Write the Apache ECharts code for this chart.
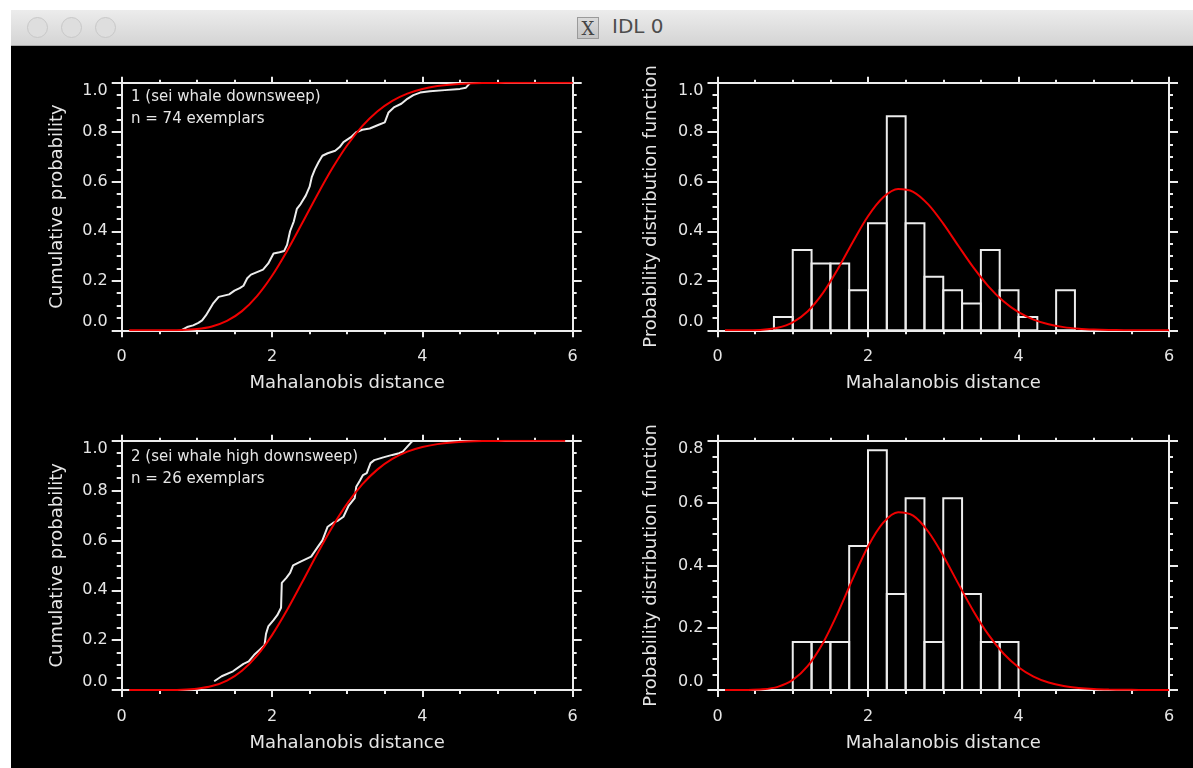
<!DOCTYPE html>
<html><head><meta charset="utf-8">
<script src="https://cdn.jsdelivr.net/npm/echarts@6/dist/echarts.min.js"></script>
<style>
html,body{margin:0;padding:0;background:#fff;width:1193px;height:768px;overflow:hidden;}
#win{position:absolute;left:11px;top:46px;width:1182px;height:722px;background:#000;}
#bar{position:absolute;left:11px;top:10px;width:1182px;height:36px;background:linear-gradient(#ececec,#d4d4d4);border-bottom:1px solid #a8a8a8;box-sizing:border-box;}
.dot{position:absolute;top:7px;width:21px;height:21px;border-radius:50%;background:#dedede;border:1px solid #c8c8c8;box-sizing:border-box;}
#xicon{position:absolute;left:566px;top:7px;width:22px;height:22px;box-sizing:border-box;border:1px solid #9a9a9a;background:linear-gradient(#dadada,#c4c4c4);font:18px "DejaVu Serif";color:#444;text-align:center;line-height:21px;}
#ttl{position:absolute;left:601px;top:4px;height:35px;line-height:35px;font:20px "DejaVu Sans";color:#4d4d4d;}
#chart{position:absolute;left:0;top:0;width:1193px;height:768px;}
</style></head>
<body>
<div id="win"></div>
<div id="bar">
  <div class="dot" style="left:16px"></div>
  <div class="dot" style="left:50px"></div>
  <div class="dot" style="left:84px"></div>
  <div id="xicon">X</div>
  <div id="ttl">IDL 0</div>
</div>
<div id="chart"></div>
<script>
// ---------- data ----------
const panelTexts = ['1 (sei whale downsweep)\nn = 74 exemplars', '2 (sei whale high downsweep)\nn = 26 exemplars'];
const xAxisName = 'Mahalanobis distance';
const cdfAxisName = 'Cumulative probability';
const pdfAxisName = 'Probability distribution function';

// fitted (red) curves
const redX   = [0.1, 0.2, 0.4, 0.6, 0.8, 1.0, 1.2, 1.4, 1.6, 1.8, 2.0, 2.2, 2.4, 2.6, 2.8, 3.0, 3.2, 3.4, 3.6, 3.8, 4.0, 4.2, 4.4, 4.6, 4.8, 5.0, 5.2, 5.4, 5.6, 5.8, 5.9, 6.0];
const redCdf = [0, 0, 0.00001, 0.0002, 0.0012, 0.0052, 0.0157, 0.038, 0.0775, 0.138, 0.2202, 0.3205, 0.432, 0.5457, 0.6531, 0.7473, 0.8246, 0.884, 0.9269, 0.9561, 0.9749, 0.9863, 0.9929, 0.9965, 0.9983, 0.9992, 0.9997, 0.9999, 1.0, 1.0, 1.0, 1.0];
const redPdf = [0, 0, 0.0002, 0.0021, 0.0101, 0.0323, 0.0773, 0.1503, 0.2481, 0.358, 0.4607, 0.5363, 0.5706, 0.5595, 0.5086, 0.4308, 0.3413, 0.2538, 0.1776, 0.1171, 0.0731, 0.0431, 0.0241, 0.0128, 0.0065, 0.0031, 0.0014, 0.0006, 0.0003, 0.0001, 0.0001, 0];
const redEndBottom = 5.9;

// empirical CDF, class 1 (n = 74)
const ecdfX1 = [0.79, 0.87, 0.95, 1.02, 1.07, 1.12, 1.17, 1.22, 1.29, 1.36, 1.43, 1.5, 1.57, 1.62, 1.67, 1.72, 1.8, 1.88, 1.95, 2.02, 2.1, 2.16, 2.2, 2.24, 2.29, 2.33, 2.38, 2.45, 2.5, 2.53, 2.57, 2.62, 2.67, 2.74, 2.84, 2.9, 2.95, 3.05, 3.12, 3.2, 3.3, 3.42, 3.5, 3.55, 3.62, 3.72, 3.8, 3.88, 3.97, 4.1, 4.3, 4.5, 4.58, 4.64];
const ecdfY1 = [0.0, 0.013, 0.02, 0.03, 0.04, 0.06, 0.085, 0.11, 0.135, 0.14, 0.145, 0.16, 0.17, 0.18, 0.21, 0.225, 0.235, 0.245, 0.27, 0.31, 0.315, 0.32, 0.345, 0.4, 0.44, 0.49, 0.51, 0.545, 0.58, 0.62, 0.65, 0.68, 0.705, 0.715, 0.725, 0.74, 0.76, 0.78, 0.8, 0.81, 0.815, 0.83, 0.84, 0.88, 0.9, 0.915, 0.935, 0.95, 0.96, 0.965, 0.97, 0.975, 0.98, 1.0];

// empirical CDF, class 2 (n = 26)
const ecdfX2 = [1.23, 1.33, 1.48, 1.62, 1.69, 1.76, 1.83, 1.9, 1.92, 1.95, 2.02, 2.07, 2.12, 2.13, 2.19, 2.24, 2.28, 2.38, 2.52, 2.6, 2.67, 2.74, 2.81, 2.88, 2.95, 3.02, 3.1, 3.12, 3.17, 3.21, 3.26, 3.31, 3.36, 3.48, 3.6, 3.69, 3.74, 3.86, 3.88];
const ecdfY2 = [0.035, 0.055, 0.075, 0.105, 0.115, 0.14, 0.16, 0.18, 0.225, 0.255, 0.28, 0.3, 0.33, 0.43, 0.45, 0.47, 0.5, 0.515, 0.535, 0.57, 0.6, 0.655, 0.67, 0.68, 0.695, 0.74, 0.77, 0.815, 0.84, 0.862, 0.87, 0.91, 0.922, 0.933, 0.943, 0.95, 0.956, 0.996, 1.0];

// histograms (bin width 0.25)
const binWidth = 0.25;
const binLeft1 = [0.75, 1.0, 1.25, 1.5, 1.75, 2.0, 2.25, 2.5, 2.75, 3.0, 3.25, 3.5, 3.75, 4.0, 4.25, 4.5];
const binVal1  = [0.054, 0.324, 0.27, 0.27, 0.162, 0.432, 0.865, 0.432, 0.216, 0.162, 0.108, 0.324, 0.162, 0.054, 0, 0.162];
const binLeft2 = [1.0, 1.25, 1.5, 1.75, 2.0, 2.25, 2.5, 2.75, 3.0, 3.25, 3.5, 3.75];
const binVal2  = [0.154, 0.154, 0.154, 0.462, 0.769, 0.308, 0.615, 0.154, 0.615, 0.308, 0.154, 0.154];

// axis ranges and tick labels
const xMin = 0, xMax = 6, xStep = 2;
const yStep = 0.2;
const yMaxes = [1.0, 1.0, 1.0, 0.8];

// ---------- styles ----------
const FONT = 'DejaVu Sans';
const FG = '#ececec';
const TXT = '#e6e6e6';
const RED = '#f00000';
const LW = 2;

const zip = (a, b) => a.map((v, i) => [v, b[i]]);
const bins = (l, v) => l.map((x, i) => [x, x + binWidth, v[i]]);

const grids = [
  {left: 121.7, top: 82.7, width: 451, height: 247.6},
  {left: 717.5, top: 82.7, width: 451.5, height: 247.6},
  {left: 121.7, top: 440.7, width: 451, height: 249.3},
  {left: 717.5, top: 440.7, width: 451.5, height: 249.3}
].map(g => Object.assign(g, {containLabel: false, outerBoundsMode: 'none'}));

const ls = {color: FG, width: LW};
const xAxis = [], yAxis = [];
grids.forEach((g, gi) => {
  const baseX = {type: 'value', gridIndex: gi, min: xMin, max: xMax, interval: xStep,
    axisLine: {show: true, onZero: false, lineStyle: ls}, splitLine: {show: false}, minorSplitLine: {show: false}};
  xAxis.push(Object.assign({}, baseX, {
    position: 'bottom', name: xAxisName, nameLocation: 'middle', nameGap: 44, nameMoveOverlap: false,
    nameTextStyle: {color: TXT, fontFamily: FONT, fontSize: 18},
    axisTick: {show: true, inside: false, length: 7, lineStyle: ls},
    minorTick: {show: true, splitNumber: 4, length: 4, lineStyle: ls},
    axisLabel: {show: true, color: TXT, fontFamily: FONT, fontSize: 16, margin: 19, formatter: v => String(v)}
  }));
  xAxis.push(Object.assign({}, baseX, {
    position: 'top',
    axisTick: {show: true, inside: false, length: 6, lineStyle: ls},
    minorTick: {show: true, splitNumber: 4, length: 3, lineStyle: ls},
    axisLabel: {show: false}
  }));
  const baseY = {type: 'value', gridIndex: gi, min: 0, max: yMaxes[gi], interval: yStep,
    axisLine: {show: true, onZero: false, lineStyle: ls}, splitLine: {show: false}, minorSplitLine: {show: false}};
  yAxis.push(Object.assign({}, baseY, {
    position: 'left', name: gi % 2 === 0 ? cdfAxisName : pdfAxisName, nameLocation: 'middle',
    nameGap: gi % 2 === 0 ? 55 : 57, nameMoveOverlap: false,
    nameTextStyle: {color: TXT, fontFamily: FONT, fontSize: 18},
    axisTick: {show: true, inside: false, length: 10, lineStyle: ls},
    minorTick: {show: true, splitNumber: 4, length: 5, lineStyle: ls},
    axisLabel: {show: true, color: TXT, fontFamily: FONT, fontSize: 16, margin: 14,
      verticalAlignMinLabel: 'bottom', verticalAlignMaxLabel: 'top',
      formatter: v => v.toFixed(1)}
  }));
  yAxis.push(Object.assign({}, baseY, {
    position: 'right',
    axisTick: {show: true, inside: false, length: 9, lineStyle: ls},
    minorTick: {show: true, splitNumber: 4, length: 4, lineStyle: ls},
    axisLabel: {show: false}
  }));
});

function renderBar(params, api) {
  const y = api.value(2);
  if (!y) return null;
  const p0 = api.coord([api.value(0), y]);
  const p1 = api.coord([api.value(1), 0]);
  return {type: 'rect', shape: {x: p0[0], y: p0[1], width: p1[0] - p0[0], height: p1[1] - p0[1]},
    style: {fill: 'none', stroke: FG, lineWidth: LW}};
}

const whiteLine = (ai, data) => ({type: 'line', xAxisIndex: ai, yAxisIndex: ai, data, showSymbol: false, symbol: 'none',
  lineStyle: {color: FG, width: LW}, z: 3, silent: true});
const redLine = (ai, data) => ({type: 'line', xAxisIndex: ai, yAxisIndex: ai, data, showSymbol: false, symbol: 'none',
  smooth: 0.3, lineStyle: {color: RED, width: LW}, z: 4, silent: true});
const hist = (ai, data) => ({type: 'custom', xAxisIndex: ai, yAxisIndex: ai, data, renderItem: renderBar,
  encode: {x: [0, 1], y: 2}, z: 3, silent: true});

const titleStyle = {color: TXT, fontFamily: FONT, fontSize: 15, fontWeight: 'normal', lineHeight: 21.6};

const option = {
  backgroundColor: 'transparent',
  animation: false,
  title: [
    {text: panelTexts[0], left: 131, top: 86.5, padding: 0, textStyle: titleStyle},
    {text: panelTexts[1], left: 131, top: 446.5, padding: 0, textStyle: titleStyle}
  ],
  grid: grids,
  xAxis, yAxis,
  series: [
    whiteLine(0, zip(ecdfX1, ecdfY1)),
    redLine(0, zip(redX, redCdf)),
    hist(2, bins(binLeft1, binVal1)),
    redLine(2, zip(redX, redPdf)),
    whiteLine(4, zip(ecdfX2, ecdfY2)),
    redLine(4, zip(redX, redCdf).filter(p => p[0] <= redEndBottom)),
    hist(6, bins(binLeft2, binVal2)),
    redLine(6, zip(redX, redPdf))
  ]
};
const chart = echarts.init(document.getElementById('chart'), null, {renderer: 'canvas'});
chart.setOption(option);
</script>
</body></html>
